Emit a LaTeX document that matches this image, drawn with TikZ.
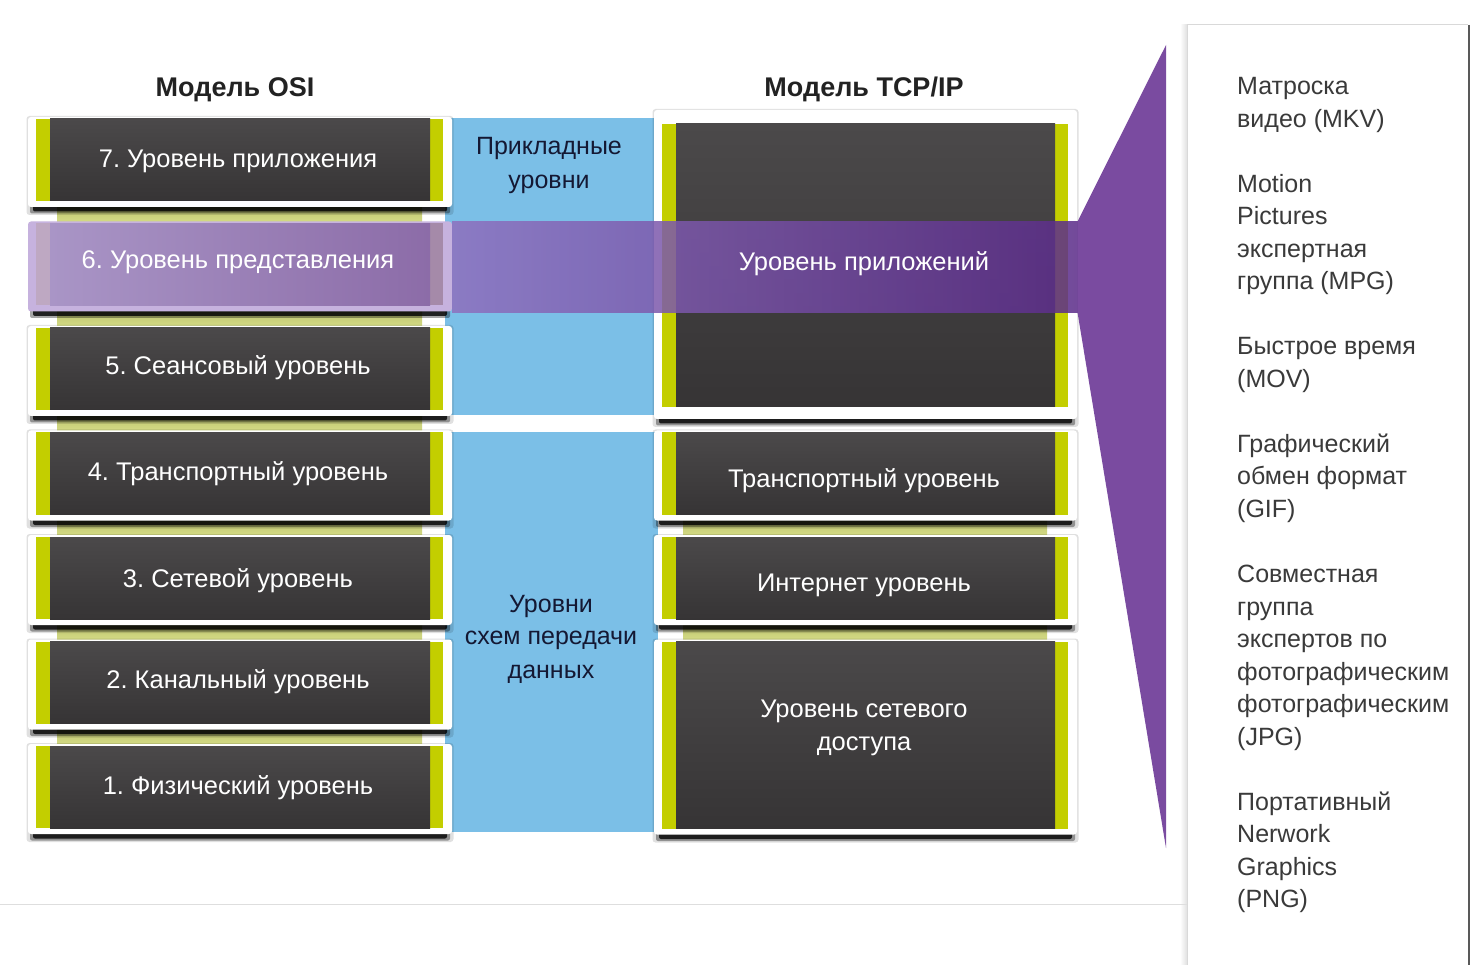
\documentclass[tikz,border=0pt]{standalone}
\usepackage{fontspec}
\setmainfont{Liberation Sans}
\definecolor{ygreen}{HTML}{C3CE00}
\definecolor{darktop}{HTML}{4B494A}
\definecolor{darkbot}{HTML}{363435}
\definecolor{skyblue}{HTML}{7BBFE7}
\definecolor{stripc}{HTML}{D9E08A}
\definecolor{stript}{HTML}{B9BF6A}
\definecolor{purp}{HTML}{7A4BA0}
\definecolor{bandl}{HTML}{8E70BE}
\definecolor{bandr}{HTML}{5C2D8A}
\definecolor{sixout}{HTML}{C6B2DE}
\definecolor{sixl}{HTML}{A995C6}
\definecolor{sixr}{HTML}{8C6CA8}
\definecolor{sixbarl}{HTML}{BEA8C2}
\definecolor{sixbarr}{HTML}{A58AA9}
\definecolor{navy}{HTML}{141833}
\definecolor{paneltext}{HTML}{3A3A3A}
\definecolor{titlec}{HTML}{222222}
% #1 left, #2 top, #3 right, #4 bottom, #5 top border, #6 bottom border
\newcommand\layerbox[6]{%
  \fill[black,opacity=0.12,rounded corners=3] ({#1-1.5},{#2-1}) rectangle ({#3+1.5},{#4+8});
  \fill[black,opacity=0.35,rounded corners=2] ({#1+2},{#4-3}) rectangle ({#3-2},{#4+6.5});
  \fill[black,opacity=0.8,rounded corners=2] ({#1+5},{#4-3}) rectangle ({#3-5},{#4+4.5});
  \fill[white,rounded corners=3] (#1,#2) rectangle (#3,#4);
  \fill[ygreen] ({#1+8},{#2+#5}) rectangle ({#3-9},{#4-#6});
  \shade[top color=darktop,bottom color=darkbot] ({#1+22},{#2+#5}) rectangle ({#3-22},{#4-#6});
}
\tikzset{
  boxtext/.style={text=white,font=\fontsize{25.5}{30}\selectfont,text height=18pt,text depth=0pt,inner sep=0pt},
  title/.style={text=titlec,font=\fontsize{27}{30}\selectfont\bfseries,text height=18pt,text depth=0pt,inner sep=0pt},
  bluetext/.style={text=navy,font=\fontsize{25}{30}\selectfont,text height=18pt,text depth=0pt,inner sep=0pt},
  rtext/.style={text=paneltext,font=\fontsize{25}{30}\selectfont,inner sep=0pt,anchor=base west}
}
\frenchspacing
\begin{document}
\frenchspacing
\begin{tikzpicture}[x=1pt,y=-1pt]
\useasboundingbox (0,0) rectangle (1473,965);
\fill[white] (0,0) rectangle (1473,965);
% blue columns
\fill[skyblue] (445,118) rectangle (658,415);
\fill[skyblue] (445,432) rectangle (658,832);
% connecting strips OSI
\foreach \a/\b in {207/221.5, 311.5/326, 416/430.5, 520.5/535, 625/639.5, 729.5/744}{
  \shade[top color=stript,bottom color=stripc] (57,{\a-4}) rectangle (422,{\b+4});
}
% connecting strips TCP/IP
\foreach \a/\b in {520.5/535, 625/639.5}{
  \shade[top color=stript,bottom color=stripc] (683,{\a-4}) rectangle (1047,{\b+4});
}
% OSI boxes
\layerbox{28}{117}{452}{207}{2}{6}
\layerbox{28}{326}{452}{416}{2}{6}
\layerbox{28}{430.5}{452}{520.5}{2}{6}
\layerbox{28}{535}{452}{625}{2}{6}
\layerbox{28}{639.5}{452}{729.5}{2}{6}
\layerbox{28}{744}{452}{834}{2}{6}
% OSI box 6 (highlighted)
\fill[black,opacity=0.35,rounded corners=2] (30,308.5) rectangle (450,318);
\fill[black,opacity=0.8,rounded corners=2] (33,308.5) rectangle (447,316);
\fill[sixout,rounded corners=3] (28,221.5) rectangle (452,311.5);
\fill[sixbarl] (36,223.5) rectangle (50,305.5);
\fill[sixbarr] (430,223.5) rectangle (443,305.5);
\shade[left color=sixl,right color=sixr] (50,223.5) rectangle (430,305.5);
% TCP/IP boxes
\layerbox{654}{110}{1077}{419}{14}{12}
\layerbox{654}{430.5}{1077}{520.5}{2}{6}
\layerbox{654}{535}{1077}{625}{2}{6}
\layerbox{654}{639.5}{1077}{834.5}{2}{6}
% purple band
\shade[left color=bandl,right color=bandr,opacity=0.86] (452,221.5) rectangle (1078,312.5);
% purple wedge
\fill[purp] (1077.5,221.5) -- (1166,45) -- (1166,848) -- (1077.5,312.5) -- cycle;
% right panel
\shade[left color=white,right color=black!12] (1180,25) rectangle (1187,965);
\fill[white] (1187,25) rectangle (1468,965);
\draw[black!15,line width=1pt] (1187,965) -- (1187,25) -- (1468,25);
\draw[black!65,line width=2pt] (1469,25) -- (1469,965);
% bottom rule
\draw[black!13,line width=1.2pt] (0,904.5) -- (1187,904.5);
% titles
\node[title] (tosi) at (235,88) {Модель OSI};
\node[title] (ttcp) at (864,88) {Модель TCP/IP};
% OSI labels
\node[boxtext] (o7) at (238,159) {7. Уровень приложения};
\node[boxtext] (o6) at (238,260) {6. Уровень представления};
\node[boxtext] (o5) at (238,366) {5. Сеансовый уровень};
\node[boxtext] (o4) at (238,472) {4. Транспортный уровень};
\node[boxtext] (o3) at (238,578) {3. Сетевой уровень};
\node[boxtext] (o2) at (238,679) {2. Канальный уровень};
\node[boxtext] (o1) at (238,785) {1. Физический уровень};
% blue labels
\node[bluetext] (b1) at (549,146) {Прикладные};
\node[bluetext] (b2) at (549,180) {уровни};
\node[bluetext] (b3) at (551,603) {Уровни};
\node[bluetext] (b4) at (551,635) {схем передачи};
\node[bluetext] (b5) at (551,669) {данных};
% TCP/IP labels
\node[boxtext] (t4) at (864,262) {Уровень приложений};
\node[boxtext] (t3) at (864,478) {Транспортный уровень};
\node[boxtext] (t2) at (864,582) {Интернет уровень};
\node[boxtext] (t1a) at (864,708) {Уровень сетевого};
\node[boxtext] (t1b) at (864,741) {доступа};
% right panel text
\foreach \i/\t in {0/Матроска, 1/видео (MKV), 3/Motion, 4/Pictures, 5/экспертная, 6/группа (MPG),
  8/Быстрое время, 9/(MOV), 11/Графический, 12/обмен формат, 13/(GIF),
  15/Совместная, 16/группа, 17/экспертов по, 18/фотографическим, 19/фотографическим, 20/(JPG),
  22/Портативный, 23/Nerwork, 24/Graphics, 25/(PNG)}{
  \node[rtext,name=r\i] at (1237,{95+32.5*\i}) {\t};
}
\end{tikzpicture}
\end{document}
